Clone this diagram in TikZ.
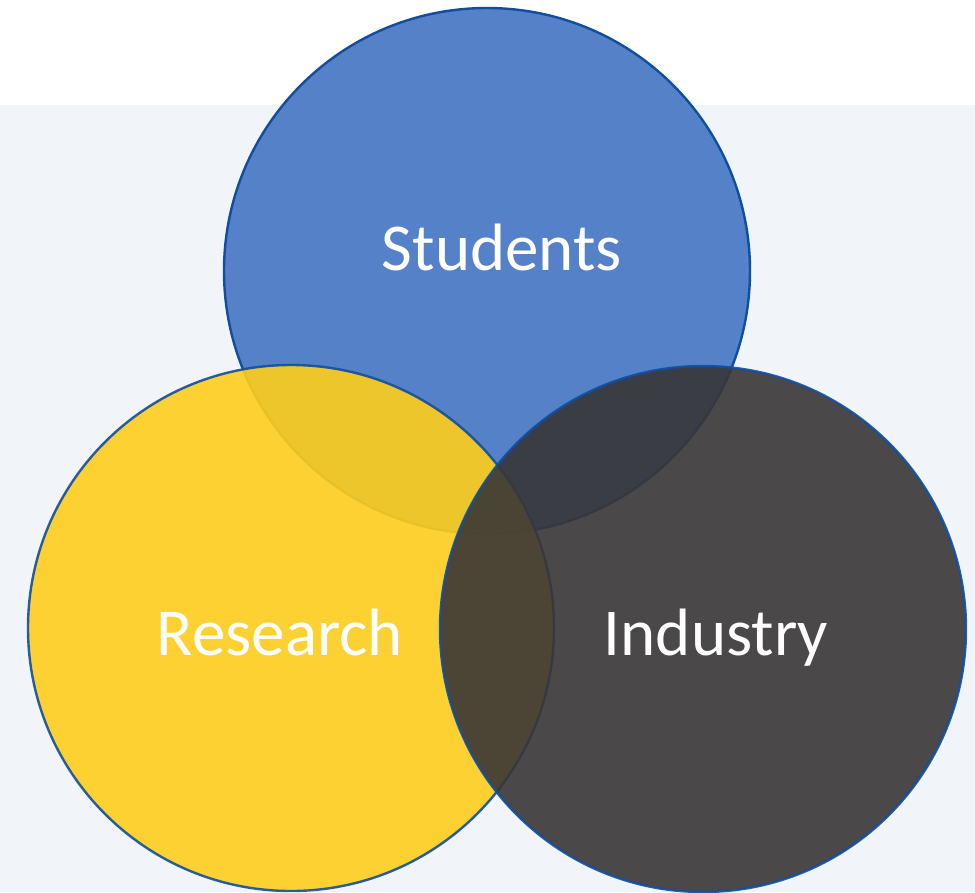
\documentclass[tikz,border=0pt]{standalone}
\usepackage{fontspec}
\setmainfont{Carlito}
\definecolor{bgpanel}{RGB}{241,244,249}
\definecolor{stublue}{RGB}{85,129,200}
\definecolor{resyellow}{RGB}{254,206,28}
\definecolor{indgray}{RGB}{57,54,55}
\definecolor{ringblue}{RGB}{16,78,160}
\begin{document}
\begin{tikzpicture}[x=1pt,y=-1pt,
  ring/.style={draw=ringblue,line width=2.4pt},
  label/.style={text=white,font=\fontsize{67}{80}\selectfont,anchor=base,inner sep=0pt}]
\useasboundingbox (0,0) rectangle (975,892);
\fill[white] (0,0) rectangle (975,105);
\fill[bgpanel] (0,105) rectangle (975,892);
\node[ring,circle,fill=stublue,minimum size=526pt,inner sep=0pt] (stu) at (487,271) {};
\node[ring,circle,fill=resyellow,opacity=0.9,minimum size=526pt,inner sep=0pt] (res) at (291,628) {};
\node[ring,circle,fill=indgray,opacity=0.9,minimum size=526pt,inner sep=0pt] (ind) at (703,629) {};
\node[label] (tstu) at (502,270) {Students};
\node[label] (tres) at (280,655) {Research};
\node[label] (tind) at (716,655) {Industry};
\end{tikzpicture}
\end{document}
